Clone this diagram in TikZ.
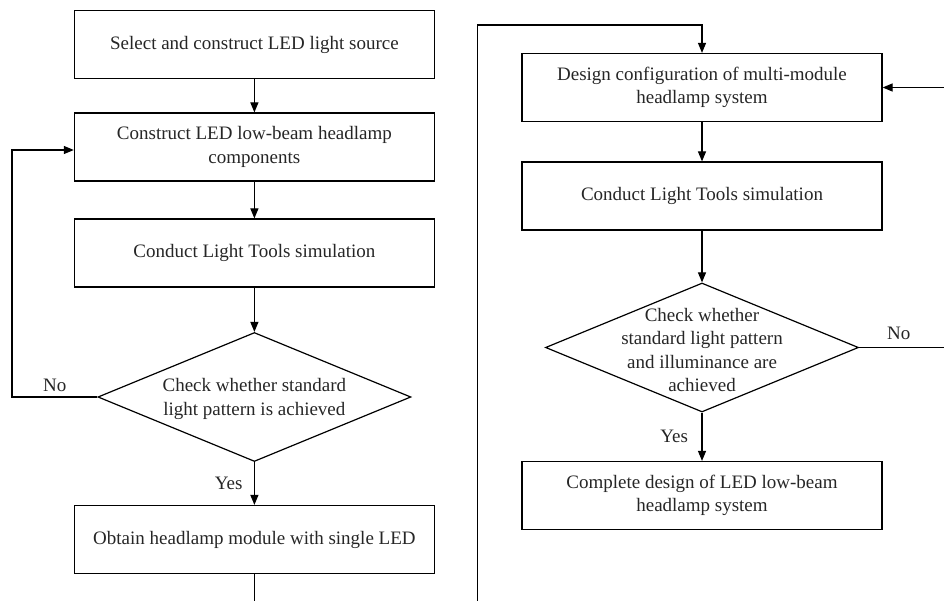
\documentclass[tikz,border=0pt]{standalone}
\usepackage{fontspec}
\setmainfont{Liberation Serif}
\usetikzlibrary{shapes.geometric,arrows.meta}
\begin{document}
\begin{tikzpicture}[x=1pt,y=-1pt,
  txt/.style={font=\fontsize{19}{23.3}\selectfont, text=black!85},
  box/.style={txt, draw, line width=1.2pt, minimum width=360pt, minimum height=68pt, align=center, inner sep=0pt},
  dec/.style={draw, diamond, line width=1.2pt, minimum width=313pt, minimum height=129pt, inner sep=0pt},
  dtext/.style={txt, align=center, inner sep=0pt},
  arr/.style={line width=1.2pt, -{Triangle[length=10pt,width=8pt]}},
  plain/.style={line width=1.2pt},
  lbl/.style={txt}]
\useasboundingbox (0,0) rectangle (944,601);
% left column
\node[box] (b1) at (254.4,44.7) {Select and construct LED light source};
\node[box] (b2) at (254.4,147) {Construct LED low-beam headlamp\\components};
\node[box] (b3) at (254.4,253) {Conduct Light Tools simulation};
\node[dec] (d1) at (254.4,397) {};
\node[dtext] (d1t) at (254.4,399) {Check whether standard\\light pattern is achieved};
\node[box] (b4) at (254.4,539.5) {Obtain headlamp module with single LED};
% right column
\node[box] (r1) at (702,87.5) {Design configuration of multi-module\\headlamp system};
\node[box] (r2) at (702,196) {Conduct Light Tools simulation};
\node[dec] (d2) at (702,347.5) {};
\node[dtext] (d2t) at (702,350) {Check whether\\standard light pattern\\and illuminance are\\achieved};
\node[box] (r3) at (702,495.5) {Complete design of LED low-beam\\headlamp system};
% helper coordinates
\coordinate (lloop) at (12,397);
\coordinate (bl) at (254.4,610);
\coordinate (br) at (477.7,610);
\coordinate (tc) at (477.7,25);
\coordinate (rloop) at (947,347.5);
% left connectors
\draw[arr] (b1) -- (b2);
\draw[arr] (b2) -- (b3);
\draw[arr] (b3) -- (d1.north);
\draw[arr] (d1.south) -- node[lbl, left=8pt] {Yes} (b4);
\draw[arr] (d1.west) -- node[lbl, above=1pt] {No} (lloop) |- ([yshift=-3pt]b2.west);
\draw[plain] (b4) -- (bl);
% right connectors
\draw[arr] (br) -- (tc) -| (r1.north);
\draw[arr] (r1) -- (r2);
\draw[arr] (r2) -- (d2.north);
\draw[arr] (d2.south) -- node[lbl, left=10pt] {Yes} (r3);
\draw[arr] (d2.east) -- node[lbl, above=4pt, pos=0.45] {No} (rloop) |- (r1.east);
\end{tikzpicture}
\end{document}
